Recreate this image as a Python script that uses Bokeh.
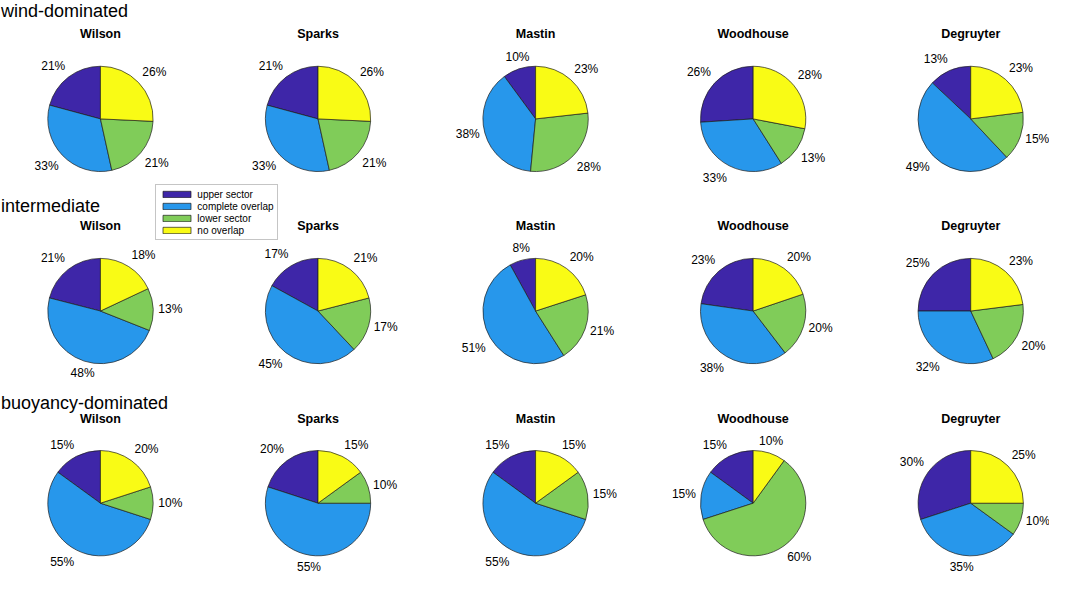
import numpy as np
from bokeh.plotting import figure
from bokeh.models import Range1d, ColumnDataSource, Legend, LegendItem
from bokeh.core.properties import value
from bokeh.embed import file_html
from bokeh.resources import INLINE

# ---------------- data ----------------
models = ["Wilson", "Sparks", "Mastin", "Woodhouse", "Degruyter"]
regimes = ["wind-dominated", "intermediate", "buoyancy-dominated"]
categories = ["upper sector", "complete overlap", "lower sector", "no overlap"]
colors = ["#3E26A8", "#2797EB", "#80CC59", "#F9FB15"]

wind_upper = [21, 21, 10, 26, 13]
wind_complete = [33, 33, 38, 33, 49]
wind_lower = [21, 21, 28, 13, 15]
wind_none = [26, 26, 23, 28, 23]

inter_upper = [21, 17, 8, 23, 25]
inter_complete = [48, 45, 51, 38, 32]
inter_lower = [13, 17, 21, 20, 20]
inter_none = [18, 21, 20, 20, 23]

buoy_upper = [15, 20, 15, 15, 30]
buoy_complete = [55, 55, 55, 15, 35]
buoy_lower = [10, 10, 15, 60, 10]
buoy_none = [20, 15, 15, 10, 25]

regime_data = [
    [wind_upper, wind_complete, wind_lower, wind_none],
    [inter_upper, inter_complete, inter_lower, inter_none],
    [buoy_upper, buoy_complete, buoy_lower, buoy_none],
]

# ---------------- layout (reference pixel frame, y downward) ----------------
REF_H = 590
X0, X1 = 3, 1063
W, H = 1049, 574
col_x0, col_dx = 104.0, 219.85
row_y0, row_dy = 121.7, 197.5
R = 53.2
title_off = 87.0
regime_centers = [11.0, 211.0, 413.5]
regime_x = 3.5
FONT = "Liberation Sans"


def Y(y):
    return REF_H - y


p = figure(width=W, height=H, x_range=Range1d(X0, X1), y_range=Range1d(0, REF_H),
           output_backend="svg", toolbar_location=None, min_border=0,
           x_axis_location=None, y_axis_location=None)
p.grid.visible = False
p.outline_line_color = None
p.background_fill_color = "white"
p.border_fill_color = "white"

# wedges
wedge_src = {k: dict(x=[], y=[], start=[], end=[]) for k in range(4)}
labels = {}
for i, rd in enumerate(regime_data):
    cy = Y(row_y0 + i * row_dy)
    for j in range(len(models)):
        cx = col_x0 + j * col_dx
        vals = np.array([rd[k][j] for k in range(4)], dtype=float)
        fr = vals / vals.sum()
        start = 90.0
        for k in range(4):
            end = start + fr[k] * 360.0
            wedge_src[k]["x"].append(cx)
            wedge_src[k]["y"].append(cy)
            wedge_src[k]["start"].append(start)
            wedge_src[k]["end"].append(end)
            mid = np.deg2rad((start + end) / 2.0)
            ax = cx + 1.1 * R * np.cos(mid)
            ay = cy + 1.1 * R * np.sin(mid) * (W / (X1 - X0)) / (H / REF_H)
            th = np.rad2deg(np.arctan2(np.sin(mid), np.cos(mid)))
            sec = int(np.round(th / 45.0)) % 8
            align = {0: "left", 1: "left", 2: "center", 3: "right", 4: "right",
                     5: "right", 6: "center", 7: "left"}[sec]
            base = {0: "middle", 1: "bottom", 2: "bottom", 3: "bottom", 4: "middle",
                    5: "top", 6: "top", 7: "top"}[sec]
            labels.setdefault((align, base), dict(x=[], y=[], t=[]))
            labels[(align, base)]["x"].append(ax)
            labels[(align, base)]["y"].append(ay)
            labels[(align, base)]["t"].append(f"{int(vals[k])}%")
            start = end

rends = []
for k in range(4):
    src = ColumnDataSource(wedge_src[k])
    r = p.wedge(x="x", y="y", radius=R, start_angle="start", end_angle="end",
                start_angle_units="deg", end_angle_units="deg", direction="anticlock",
                fill_color=colors[k], line_color="#1e1e1e", line_width=0.7, source=src)
    rends.append(r)

for (align, base), d in labels.items():
    p.text(x=d["x"], y=d["y"], text=d["t"], text_align=align, text_baseline=base,
           text_font=value(FONT), text_font_size="12px", text_color="#000000")

# titles
tx, ty, tt = [], [], []
for i in range(len(regimes)):
    for j, m in enumerate(models):
        tx.append(col_x0 + j * col_dx)
        ty.append(Y(row_y0 + i * row_dy - title_off))
        tt.append(m)
p.text(x=tx, y=ty, text=tt, text_align="center", text_baseline="middle",
       text_font=value(FONT), text_font_size="12.5px", text_font_style="bold",
       text_color="#000000")

# regime labels
p.text(x=[regime_x] * 3, y=[Y(c) for c in regime_centers], text=regimes,
       text_align="left", text_baseline="middle",
       text_font=value(FONT), text_font_size="18px", text_color="#000000")

# legend
lx = (160 - X0) * W / (X1 - X0)
ly = (REF_H - 247) * H / REF_H
legend = Legend(items=[LegendItem(label=c, renderers=[r]) for c, r in zip(categories, rends)],
                location=(lx, ly), orientation="vertical",
                border_line_color="#8c8c8c", border_line_width=1,
                background_fill_color="white", background_fill_alpha=1.0,
                padding=3, spacing=0, margin=0,
                glyph_width=35, glyph_height=8, label_standoff=3, label_height=12,
                label_text_font=FONT, label_text_font_size="10px",
                label_text_color="#000000")
p.add_layout(legend)

open("out.html", "w").write(file_html(p, INLINE))
